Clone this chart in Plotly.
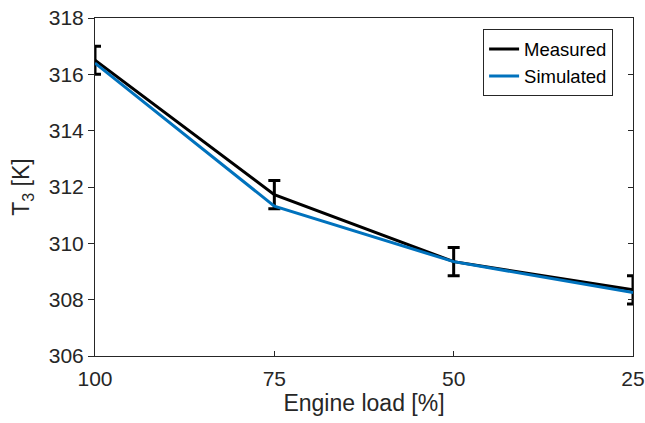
import plotly.graph_objects as go

engine_load = [100, 75, 50, 25]
measured = [316.5, 311.73, 309.35, 308.35]
measured_err = [0.5, 0.5, 0.5, 0.5]
simulated = [316.4, 311.32, 309.35, 308.25]
x_ticks = [100, 75, 50, 25]
y_ticks = [306, 308, 310, 312, 314, 316, 318]

FONT = "Arial, Liberation Sans, sans-serif"

fig = go.Figure()
fig.add_trace(go.Scatter(
    x=engine_load, y=measured, mode="lines", name="Measured",
    line=dict(color="black", width=3),
    error_y=dict(type="data", array=measured_err, visible=True,
                 color="black", thickness=3, width=6),
))
fig.add_trace(go.Scatter(
    x=engine_load, y=simulated, mode="lines", name="Simulated",
    line=dict(color="#0072BD", width=3),
))
# dummy trace for right-side inward ticks
fig.add_trace(go.Scatter(x=[None], y=[None], yaxis="y2", showlegend=False))

fig.update_layout(
    width=645, height=423,
    margin=dict(l=95, r=12, t=18, b=67, autoexpand=False),
    paper_bgcolor="white", plot_bgcolor="white",
    font=dict(family=FONT, color="#262626", size=21),
    showlegend=True,
    legend=dict(x=0.963, y=0.966, xanchor="right", yanchor="top",
                bgcolor="white", bordercolor="#262626", borderwidth=1,
                font=dict(size=18.5, color="black"),
                tracegroupgap=0),
    xaxis=dict(
        range=[100, 25], tickvals=x_ticks, ticktext=[str(v) for v in x_ticks],
        showline=True, linecolor="#262626", linewidth=1, mirror=True,
        ticks="inside", ticklen=5, tickcolor="#262626",
        showgrid=False, zeroline=False, ticklabelstandoff=4,
        title=dict(text="Engine load [%]", font=dict(size=23), standoff=2),
        tickfont=dict(size=21),
    ),
    yaxis=dict(
        range=[306, 318], tickvals=y_ticks,
        showline=True, linecolor="#262626", linewidth=1, mirror=True,
        ticks="outside", ticklen=6, tickcolor="#262626",
        showgrid=False, zeroline=False,
        title=dict(text="T<sub>3</sub> [K]", font=dict(size=23), standoff=12),
        tickfont=dict(size=21),
    ),
    yaxis2=dict(
        range=[306, 318], tickvals=y_ticks, overlaying="y", side="right",
        showticklabels=False, ticks="inside", ticklen=5, tickcolor="#262626",
        showgrid=False, zeroline=False, showline=False,
    ),
)

fig.write_html("out.html")
